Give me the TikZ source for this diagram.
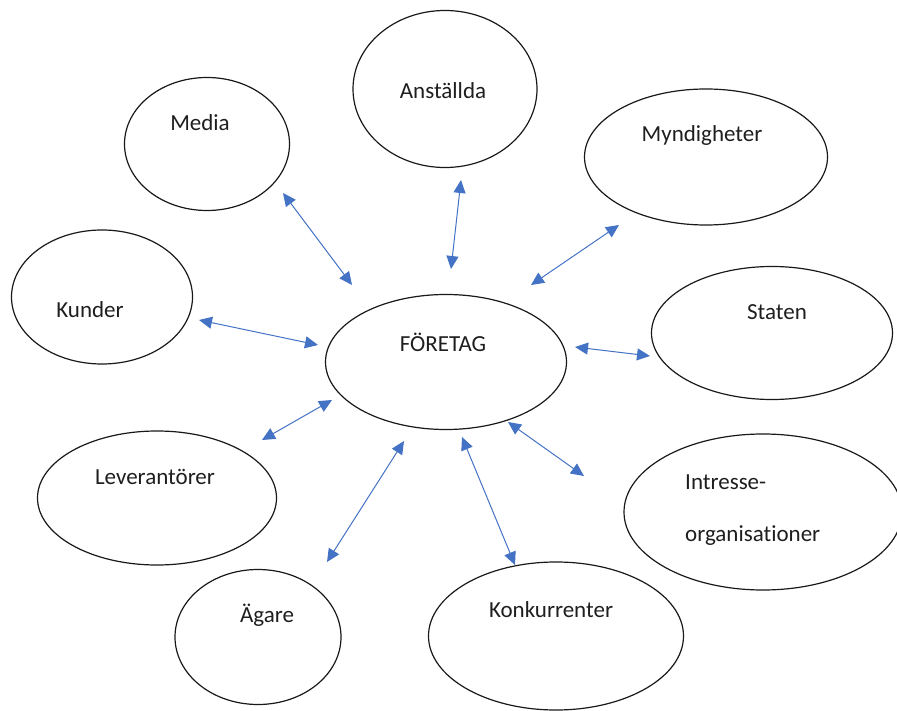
\documentclass[tikz,border=0pt]{standalone}
\usepackage{fontspec}
\setmainfont[Ligatures={NoCommon}]{Carlito}
\usetikzlibrary{shapes.geometric,arrows.meta}
\definecolor{ArrowClr}{RGB}{68,114,196}
\definecolor{LineClr}{RGB}{25,25,25}
\definecolor{TextClr}{RGB}{30,30,30}

\begin{document}
\begin{tikzpicture}[x=1pt,y=-1pt,
  bubble/.style={ellipse,draw=LineClr,line width=1.2pt,inner sep=0pt},
  word/.style={font=\fontsize{23}{27}\selectfont,text=TextClr,inner sep=0pt},
  link/.style={draw=ArrowClr,line width=1pt,
    {Triangle[length=13pt,width=12pt]}-{Triangle[length=13pt,width=12pt]}}]
\useasboundingbox (0,0) rectangle (897,711);

\node[bubble,minimum width=241pt,minimum height=135pt] (foretag) at (446,362) {};
\node[bubble,minimum width=165pt,minimum height=133pt] (media) at (207,144) {};
\node[bubble,minimum width=184pt,minimum height=157pt] (anstallda) at (445,89) {};
\node[bubble,minimum width=243pt,minimum height=136pt] (myndigheter) at (706,157) {};
\node[bubble,minimum width=181pt,minimum height=134pt] (kunder) at (102,297) {};
\node[bubble,minimum width=241pt,minimum height=133pt] (staten) at (772,333) {};
\node[bubble,minimum width=239pt,minimum height=134pt] (leverantorer) at (157,498) {};
\node[bubble,minimum width=278pt,minimum height=156pt] (intresse) at (763,512) {};
\node[bubble,minimum width=166pt,minimum height=135pt] (agare) at (258,637) {};
\node[bubble,minimum width=255pt,minimum height=148pt] (konkurrenter) at (556,636) {};

\node[word] (foretag-txt) at (443,342) {FÖRETAG};
\node[word] (media-txt) at (200,123) {Media};
\node[word] (anstallda-txt) at (443,91) {Anställda};
\node[word] (myndigheter-txt) at (702,135) {Myndigheter};
\node[word] (kunder-txt) at (90,310) {Kunder};
\node[word] (staten-txt) at (777,312) {Staten};
\node[word] (leverantorer-txt) at (155,477) {Leverantörer};
\node[word,align=left,anchor=west,
  font=\fontsize{23}{52}\selectfont] (intresse-txt) at (685,510) {Intresse-\\organisationer};
\node[word] (agare-txt) at (267,615) {Ägare};
\node[word] (konkurrenter-txt) at (551,610) {Konkurrenter};

\coordinate (m1) at (283,193);  \coordinate (m2) at (352,285);
\coordinate (a1) at (461,180);  \coordinate (a2) at (451,269);
\coordinate (y1) at (619,225);  \coordinate (y2) at (531,285);
\coordinate (k1) at (199,320);  \coordinate (k2) at (318,345);
\coordinate (s1) at (575,347);  \coordinate (s2) at (650,356);
\coordinate (l1) at (332,400);  \coordinate (l2) at (262,440);
\coordinate (i1) at (508,422);  \coordinate (i2) at (584,476);
\coordinate (g1) at (404,441);  \coordinate (g2) at (327,562);
\coordinate (r1) at (462,437);  \coordinate (r2) at (515,565);

\draw[link] (m1) -- (m2);
\draw[link] (a1) -- (a2);
\draw[link] (y1) -- (y2);
\draw[link] (k1) -- (k2);
\draw[link] (s1) -- (s2);
\draw[link] (l1) -- (l2);
\draw[link] (i1) -- (i2);
\draw[link] (g1) -- (g2);
\draw[link] (r1) -- (r2);

\end{tikzpicture}
\end{document}
